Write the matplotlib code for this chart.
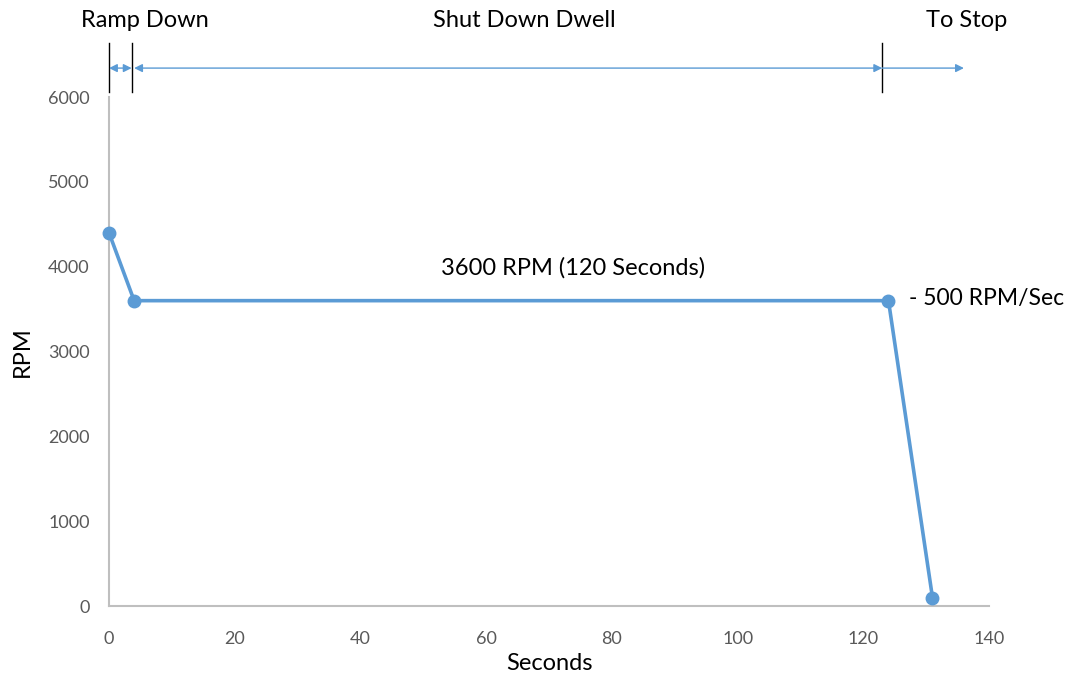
import matplotlib
matplotlib.use("Agg")
import matplotlib.pyplot as plt

seconds = [0, 4, 124, 131]
rpm = [4400, 3600, 3600, 100]
xticks = [0, 20, 40, 60, 80, 100, 120, 140]
yticks = [0, 1000, 2000, 3000, 4000, 5000, 6000]
phase_bounds = [0, 3.6, 123, 136]
phase_labels = ["Ramp Down", "Shut Down Dwell", "To Stop"]

plt.rcParams['font.family'] = ['Lato', 'DejaVu Sans']
blue = "#5B9BD5"

fig = plt.figure(figsize=(10.74, 6.79), dpi=100)
ax = fig.add_axes([0.1015, 0.1075, 0.8194, 0.7495])
ax.plot(seconds, rpm, color=blue, lw=2.6, marker="o", ms=9, clip_on=False, zorder=3)
ax.set_xlim(0, 140)
ax.set_ylim(0, 6000)
ax.set_xticks(xticks)
ax.set_yticks(yticks)
ax.tick_params(length=0, labelsize=13, labelcolor="#595959")
ax.tick_params(axis="x", pad=18)
ax.tick_params(axis="y", pad=14)
for s in ["top", "right"]:
    ax.spines[s].set_visible(False)
for s in ["left", "bottom"]:
    ax.spines[s].set_color("#BFBFBF")
    ax.spines[s].set_linewidth(1.5)
ax.set_xlabel("Seconds", fontsize=17, labelpad=4)
ax.set_ylabel("RPM", fontsize=17, labelpad=11)

# Phase annotations above the plot
ya = 6342  # arrow height in data units
for xb in phase_bounds[:3]:
    ax.plot([xb, xb], [6059, 6637], color="black", lw=1.0, clip_on=False)
ap = dict(arrowstyle="<|-|>", color=blue, lw=1.0, mutation_scale=12, shrinkA=0, shrinkB=0)
ax.annotate("", xy=(phase_bounds[1], ya), xytext=(phase_bounds[0], ya), arrowprops=ap, annotation_clip=False)
ax.annotate("", xy=(phase_bounds[2], ya), xytext=(phase_bounds[1] + 0.4, ya), arrowprops=ap, annotation_clip=False)
ap2 = dict(arrowstyle="-|>", color=blue, lw=1.0, mutation_scale=12, shrinkA=0, shrinkB=0)
ax.annotate("", xy=(phase_bounds[3], ya), xytext=(phase_bounds[2], ya), arrowprops=ap2, annotation_clip=False)

label_x = [5.7, 66, 136.4]
for lx, lab in zip(label_x, phase_labels):
    ax.text(lx, 6908, lab, ha="center", va="center", fontsize=17, clip_on=False)

ax.text(73.8, 3984, "3600 RPM (120 Seconds)", ha="center", va="center", fontsize=17)
ax.text(127.2, 3630, "- 500 RPM/Sec", ha="left", va="center", fontsize=16.5)

fig.savefig("out.png", dpi=100)
